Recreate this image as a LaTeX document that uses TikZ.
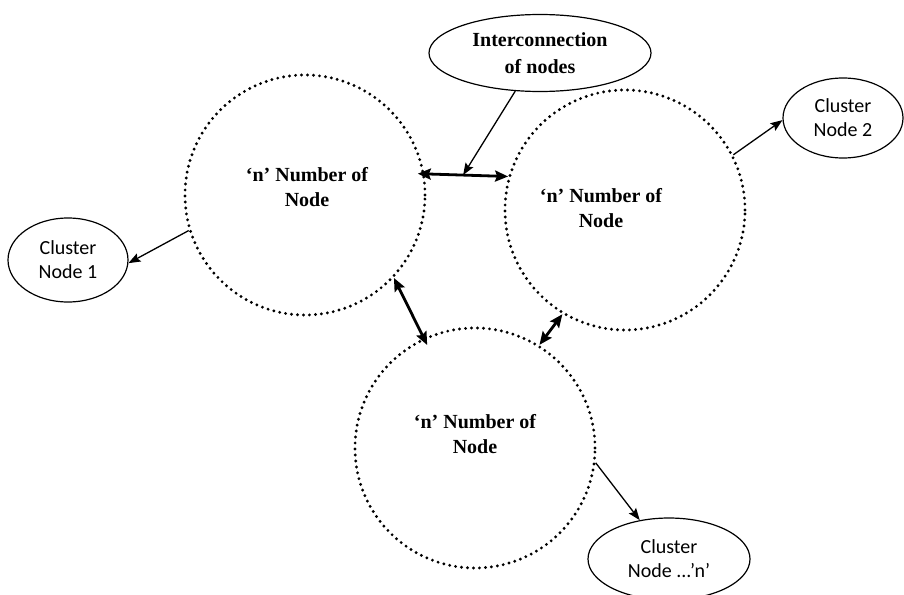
\documentclass[tikz,border=0pt]{standalone}
\usepackage{fontspec}
\setmainfont{Liberation Serif}
\newfontfamily\clusterfont{Carlito}
\usetikzlibrary{shapes.geometric,arrows.meta}
\begin{document}
\begin{tikzpicture}[x=1pt,y=-1pt,
  dotcirc/.style={circle,draw,minimum size=240pt,inner sep=0pt,
    line width=3.2pt,line cap=round,dash pattern=on 0pt off 6pt},
  grouptext/.style={font=\bfseries\fontsize{20}{25}\selectfont,align=center,inner sep=0pt},
  oval/.style={ellipse,draw,line width=1.2pt,inner sep=0pt,align=center},
  clustertext/.style={font=\clusterfont\fontsize{20}{24}\selectfont},
  link/.style={line width=1.3pt,-{Stealth[length=12pt,width=9pt,inset=2pt]}},
  both/.style={line width=2.8pt,
    {Stealth[length=13pt,width=11pt,inset=2pt]}-{Stealth[length=13pt,width=11pt,inset=2pt]}}
]
\useasboundingbox (0,0) rectangle (904,594);

% the three groups of nodes
\node[dotcirc] (c1) at (305,195) {};
\node[dotcirc] (c2) at (625,210) {};
\node[dotcirc] (c3) at (475,448) {};
\node[grouptext] (t1) at (307,187) {‘n’ Number of\\Node};
\node[grouptext] (t2) at (601,208) {‘n’ Number of\\Node};
\node[grouptext] (t3) at (475,434) {‘n’ Number of\\Node};

% callout and cluster heads
\node[oval,minimum width=222pt,minimum height=77pt,
      font=\bfseries\fontsize{20}{27}\selectfont] (ie) at (540,53)
      {Interconnection\\of nodes};
\node[oval,clustertext,minimum width=120pt,minimum height=84pt] (k1) at (68,260)
      {Cluster\\Node 1};
\node[oval,clustertext,minimum width=120pt,minimum height=80pt] (k2) at (843,118)
      {Cluster\\Node 2};
\node[oval,clustertext,minimum width=162pt,minimum height=82pt] (kn) at (669,559)
      {Cluster\\Node ...’n’};

% links between the groups
\draw[both,shorten <=-7pt] (c1.10) -- coordinate[pos=0.46] (jn) (c2.164);
\draw[both,shorten >=-8pt] (c1.-43) -- (c3.115);
\draw[both] (c2.239) -- (c3.58);

% pointers
\draw[link] (ie.237) -- (jn);
\draw[link] (c1.197) -- (k1.-3);
\draw[link] (c2.27) -- (k2.182);
\draw[link] (c3.-7) -- (kn.127);
\end{tikzpicture}
\end{document}
